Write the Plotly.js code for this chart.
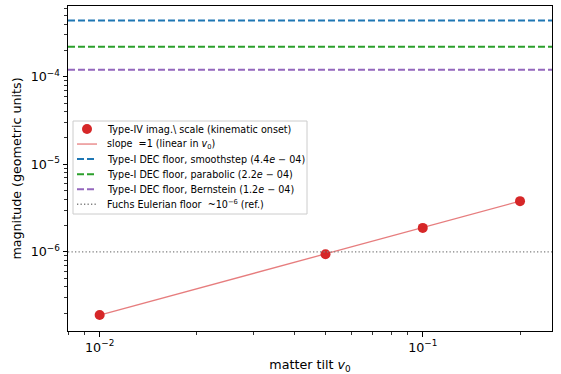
<!DOCTYPE html>
<html>
<head>
<meta charset="utf-8">
<script src="https://cdn.plot.ly/plotly-3.0.1.min.js"></script>
<style>html,body{margin:0;padding:0;background:#fff;}#chart{width:561px;height:374px;}</style>
</head>
<body>
<div id="chart"></div>
<script>
// ---- data ----
const tilt = [0.01, 0.05, 0.1, 0.2];
const imagScale = [1.9e-7, 9.4e-7, 1.88e-6, 3.8e-6];
const slopeX = [0.01, 0.2];
const slopeY = [1.9e-7, 3.8e-6];
const floorNames = [
  "Type-I DEC floor, smoothstep (4.4<i>e</i> − 04)",
  "Type-I DEC floor, parabolic (2.2<i>e</i> − 04)",
  "Type-I DEC floor, Bernstein (1.2<i>e</i> − 04)"
];
const floorValues = [4.4e-4, 2.2e-4, 1.2e-4];
const floorColors = ["#1f77b4", "#2ca02c", "#9467bd"];
const fuchsFloor = 1e-6;
const pointName = "Type-IV imag.\\ scale (kinematic onset)";
const slopeName = "slope  =1 (linear in <i>v</i><sub>0</sub>)";
const fuchsName = "Fuchs Eulerian floor  ~10<sup>−6</sup> (ref.)";
const xTickVals = [0.01, 0.1];
const xTickText = ["10<sup>−2</sup>", "10<sup>−1</sup>"];
const yTickVals = [1e-6, 1e-5, 1e-4];
const yTickText = ["10<sup>−6</sup>", "10<sup>−5</sup>", "10<sup>−4</sup>"];

// axis ranges (log10)
const xRange = [-2.098, -0.600];
const yRange = [-6.903, -3.192];
const xSpan = [Math.pow(10, xRange[0]), Math.pow(10, xRange[1])];

// plot area in px
const W = 561, H = 374;
const M = {l: 68, r: 9, t: 6, b: 43};
const PW = W - M.l - M.r, PH = H - M.t - M.b;
const px = (x) => (x - M.l) / PW;
const py = (y) => 1 - (y - M.t) / PH;

function minorTicks(r) {
  const out = [];
  for (let d = Math.floor(r[0]); d <= Math.ceil(r[1]); d++) {
    for (let m = 2; m <= 9; m++) {
      const v = m * Math.pow(10, d);
      const lv = Math.log10(v);
      if (lv >= r[0] && lv <= r[1]) out.push(v);
    }
  }
  return out;
}

const font = "DejaVu Sans, sans-serif";
const dashed = "7px,3px";
const dotted = "1.3px,2.2px";
const traces = [];
traces.push({
  x: tilt, y: imagScale, mode: "markers", type: "scatter",
  name: pointName, marker: {color: "#d62728", size: 10}
});
traces.push({
  x: slopeX, y: slopeY, mode: "lines", type: "scatter",
  name: slopeName, line: {color: "rgba(214,39,40,0.6)", width: 1.3}
});
for (let i = 0; i < floorValues.length; i++) {
  traces.push({
    x: xSpan, y: [floorValues[i], floorValues[i]], mode: "lines", type: "scatter",
    name: floorNames[i], line: {color: floorColors[i], width: 2, dash: dashed}
  });
}
traces.push({
  x: xSpan, y: [fuchsFloor, fuchsFloor], mode: "lines", type: "scatter",
  name: fuchsName, line: {color: "gray", width: 1.3, dash: dotted}
});

// ---- custom legend (matplotlib-like compact layout) ----
const legBox = {x0: 73, x1: 307, y0: 121, y1: 214};
const rowY0 = 129, rowStep = 15.05;
const handleX0 = 77, handleX1 = 97, textX = 105;
const shapes = [{
  type: "rect", xref: "paper", yref: "paper", layer: "above",
  x0: px(legBox.x0), x1: px(legBox.x1), y0: py(legBox.y1), y1: py(legBox.y0),
  line: {color: "#cccccc", width: 1}, fillcolor: "rgba(255,255,255,0.8)"
}];
const annotations = [];
const legendEntries = [
  {name: pointName, kind: "marker", color: "#d62728"},
  {name: slopeName, kind: "line", color: "rgba(214,39,40,0.6)", width: 1.3, dash: "solid"}
];
for (let i = 0; i < floorValues.length; i++) {
  legendEntries.push({name: floorNames[i], kind: "line", color: floorColors[i], width: 2, dash: dashed});
}
legendEntries.push({name: fuchsName, kind: "line", color: "gray", width: 1.3, dash: dotted});

legendEntries.forEach((e, i) => {
  const yc = rowY0 + i * rowStep;
  if (e.kind === "marker") {
    const r = 5;
    const cx = (handleX0 + handleX1) / 2;
    shapes.push({
      type: "circle", xref: "paper", yref: "paper", layer: "above",
      x0: px(cx - r), x1: px(cx + r), y0: py(yc + r), y1: py(yc - r),
      fillcolor: e.color, line: {color: e.color, width: 0}
    });
  } else {
    shapes.push({
      type: "line", xref: "paper", yref: "paper", layer: "above",
      x0: px(handleX0), x1: px(handleX1), y0: py(yc), y1: py(yc),
      line: {color: e.color, width: e.width, dash: e.dash}
    });
  }
  annotations.push({
    xref: "paper", yref: "paper", x: px(textX), y: py(yc),
    xanchor: "left", yanchor: "middle", showarrow: false,
    text: e.name, font: {family: font, size: 9.6, color: "#000"}
  });
});

const layout = {
  width: W, height: H,
  margin: M,
  paper_bgcolor: "#fff", plot_bgcolor: "#fff",
  font: {family: font, size: 12.7, color: "#000"},
  showlegend: false,
  shapes: shapes, annotations: annotations,
  xaxis: {
    type: "log", range: xRange,
    showgrid: false, zeroline: false,
    showline: true, linecolor: "#000", linewidth: 1, mirror: true,
    ticks: "outside", ticklen: 4.5, tickwidth: 1, tickcolor: "#000",
    tickmode: "array", tickvals: xTickVals, ticktext: xTickText,
    tickfont: {family: font, size: 12.7},
    minor: {ticks: "outside", ticklen: 2.6, tickwidth: 0.8, tickcolor: "#000", tickmode: "array", tickvals: minorTicks(xRange)},
    title: {text: "matter tilt <i>v</i><sub>0</sub>", font: {family: font, size: 12.7}, standoff: 6}
  },
  yaxis: {
    type: "log", range: yRange,
    showgrid: false, zeroline: false,
    showline: true, linecolor: "#000", linewidth: 1, mirror: true,
    ticks: "outside", ticklen: 4.5, tickwidth: 1, tickcolor: "#000",
    tickmode: "array", tickvals: yTickVals, ticktext: yTickText,
    tickfont: {family: font, size: 12.7},
    minor: {ticks: "outside", ticklen: 2.6, tickwidth: 0.8, tickcolor: "#000", tickmode: "array", tickvals: minorTicks(yRange)},
    title: {text: "magnitude (geometric units)", font: {family: font, size: 12.7}, standoff: 6}
  }
};

Plotly.newPlot("chart", traces, layout, {staticPlot: true, displayModeBar: false});
</script>
</body>
</html>
